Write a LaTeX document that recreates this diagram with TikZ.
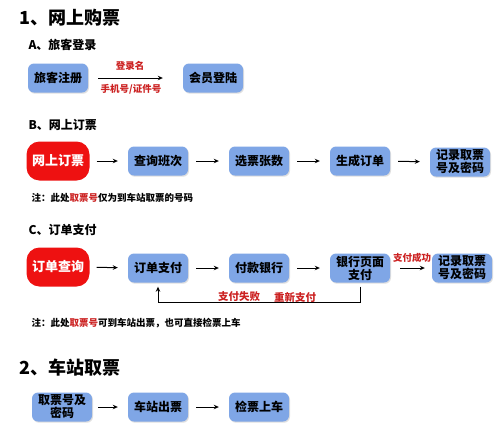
\documentclass[tikz,border=0pt]{standalone}
\usepackage{fontspec}
\setmainfont{Noto Sans CJK SC}
\usetikzlibrary{arrows.meta,shadows,backgrounds,calc}
\definecolor{boxblue}{HTML}{7FA6E6}
\definecolor{boxred}{HTML}{EE1111}
\definecolor{lblred}{HTML}{CC2222}
\begin{document}
\begin{tikzpicture}[x=1pt,y=-1pt,
  bbox/.style={fill=boxblue, rounded corners=6pt, minimum width=60pt, minimum height=29pt,
    font=\bfseries\fontsize{12}{13}\selectfont, align=center, inner sep=1pt,
    drop shadow={shadow xshift=1pt, shadow yshift=-1.2pt, opacity=0.25, fill=gray}},
  rbox/.style={fill=boxred, rounded corners=13pt, minimum width=63pt, minimum height=39pt,
    text=white, font=\bfseries\fontsize{13}{14}\selectfont, inner sep=1pt},
  arr/.style={-{Stealth[length=5pt,width=4.5pt]}, line width=1pt, shorten <=8pt, shorten >=10pt},
  head/.style={anchor=west, font=\bfseries\fontsize{18}{20}\selectfont},
  sub/.style={anchor=west, font=\bfseries\fontsize{12}{13}\selectfont},
  note/.style={anchor=west, font=\bfseries\fontsize{9.5}{11}\selectfont},
  lbl/.style={text=lblred, font=\bfseries\fontsize{9.5}{11}\selectfont, inner sep=1pt}
]
\useasboundingbox (0,0) rectangle (500,440);
\fill[white] (0,0) rectangle (500,440);

% Section 1
\node[head] (t1) at (16,18) {1、网上购票};
\node[sub] (ta) at (25,45) {A、旅客登录};
\node[bbox] (a1) at (58,78) {旅客注册};
\node[bbox] (a2) at (213,78) {会员登陆};
\draw[arr, shorten <=10pt, shorten >=20pt] (a1) -- (a2);
\node[lbl] (la1) at (130,66) {登录名};
\node[lbl] (la2) at (131,89) {手机号/证件号};

% Section B
\node[sub] (tb) at (25,125) {B、网上订票};
\node[rbox] (b1) at (58,161) {网上订票};
\node[bbox] (b2) at (158,161) {查询班次};
\node[bbox] (b3) at (259,161) {选票张数};
\node[bbox] (b4) at (360,161) {生成订单};
\node[bbox] (b5) at (460,162) {记录取票\\号及密码};
\draw[arr, shorten <=7pt] (b1) -- (b2);
\draw[arr] (b2) -- (b3);
\draw[arr] (b3) -- (b4);
\draw[arr] (b4) -- (b5);
\node[note] (nb) at (28,198) {注：此处\textcolor{lblred}{取票号}仅为到车站取票的号码};

% Section C
\node[sub] (tc) at (25,230) {C、订单支付};
\node[rbox] (c1) at (58,267) {订单查询};
\node[bbox] (c2) at (158,268) {订单支付};
\node[bbox] (c3) at (259,268) {付款银行};
\node[bbox] (c4) at (360,268) {银行页面\\支付};
\node[bbox] (c5) at (462,268) {记录取票\\号及密码};
\draw[arr, shorten <=7pt] (c1) -- (c2);
\draw[arr] (c2) -- (c3);
\draw[arr] (c3) -- (c4);
\draw[arr, shorten <=10pt, shorten >=7pt] (c4) -- (c5);
\node[lbl] (lc) at (412,258) {支付成功};
\draw[-{Stealth[length=5pt,width=4.5pt]}, line width=1pt, shorten <=4pt, shorten >=4pt]
  (c4.south) -- ++(0,20) -| (c2.south);
\node[lbl, font=\bfseries\fontsize{10.5}{12}\selectfont] (lf1) at (239,297) {支付失败};
\node[lbl, font=\bfseries\fontsize{10.5}{12}\selectfont] (lf2) at (295,297) {重新支付};
\node[note] (nc) at (28,323) {注：此处\textcolor{lblred}{取票号}可到车站出票，也可直接检票上车};

% Section 2
\node[head] (t2) at (16,368) {2、车站取票};
\node[bbox] (d1) at (62,407) {取票号及\\密码};
\node[bbox] (d2) at (158,407) {车站出票};
\node[bbox] (d3) at (259,407) {检票上车};
\draw[arr, shorten <=6pt] (d1) -- (d2);
\draw[arr] (d2) -- (d3);

% red glow
\begin{scope}[on background layer]
\foreach \n in {b1,c1}{
  \foreach \g in {1,2,3,4}{
    \fill[boxred, opacity=0.10, rounded corners=13pt]
      ([shift={(-\g,-\g)}]\n.north west) rectangle ([shift={(\g,\g)}]\n.south east);
  }
}
\end{scope}
\end{tikzpicture}
\end{document}
